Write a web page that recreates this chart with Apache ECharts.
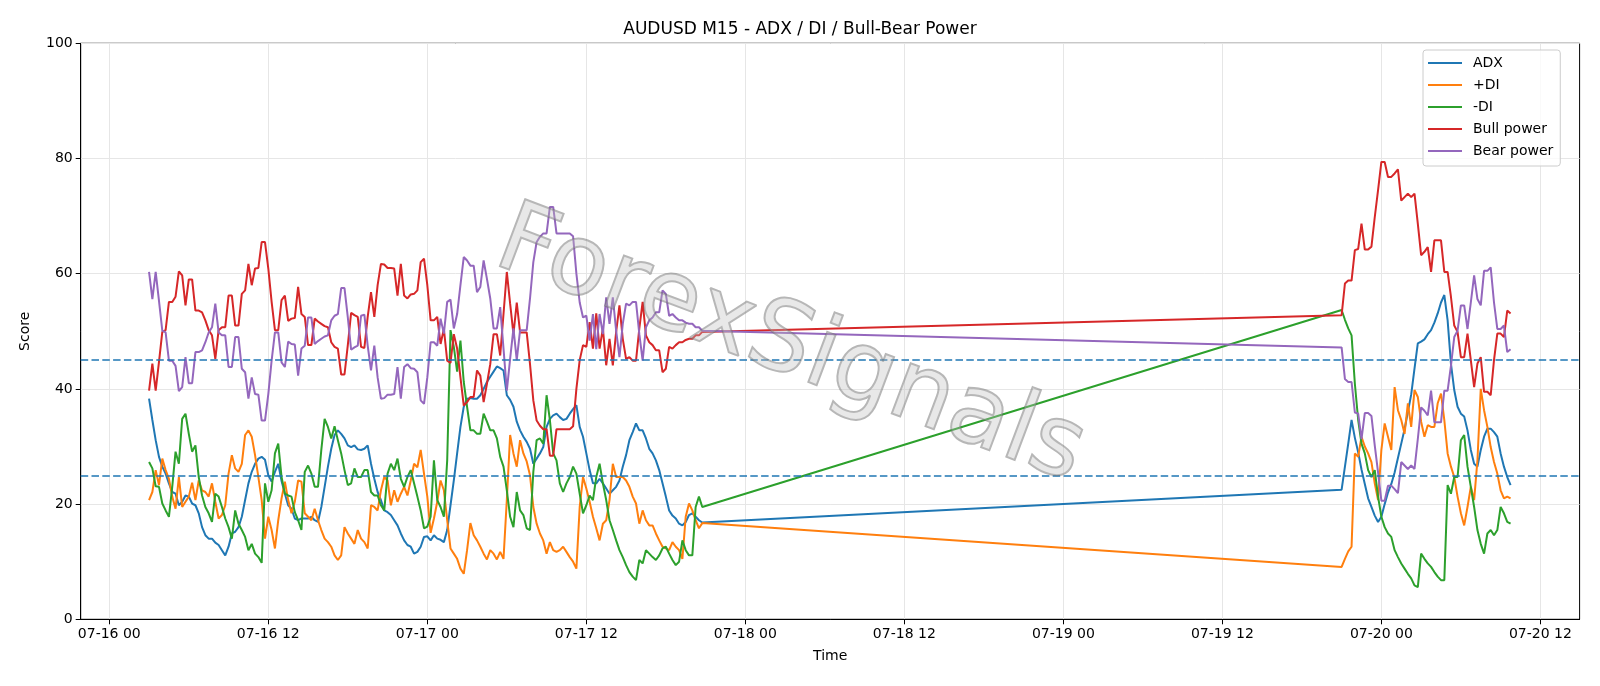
<!DOCTYPE html>
<html>
<head>
<meta charset="utf-8">
<title>AUDUSD M15 - ADX / DI / Bull-Bear Power</title>
<script src="https://cdn.jsdelivr.net/npm/echarts@6/dist/echarts.min.js"></script>
<style>
  html, body { margin: 0; padding: 0; background: #fff; }
  #main { width: 1600px; height: 686px; }
</style>
</head>
<body>
<div id="main"></div>
<script>
// x values are hours counted from 07-16 00:00, one bar every 15 minutes
var seg1Start = 3;    // 07-16 03:00
var seg2Start = 93;   // 07-19 21:00
var barStep = 0.25;

var tickHours = [0, 12, 24, 36, 48, 60, 72, 84, 96, 108];
var tickLabels = ['07-16 00', '07-16 12', '07-17 00', '07-17 12', '07-18 00',
                  '07-18 12', '07-19 00', '07-19 12', '07-20 00', '07-20 12'];

// ---- session 1 (07-16 03:00 .. 07-17 20:45) ----
var adx1 = [38.3,34.6,31.1,28.2,26.5,25.3,23.6,22.1,21.8,19.8,
  20.4,21.5,21.3,20.1,19.8,18.4,16.0,14.6,14.0,14.0,
  13.3,12.9,12.0,11.1,12.6,14.9,15.2,16.0,17.8,20.7,
  23.6,25.6,27.0,27.9,28.2,27.7,25.0,23.9,25.6,27.0,
  24.0,21.8,19.8,19.2,17.5,17.2,17.5,17.5,17.5,17.8,
  17.2,16.9,19.5,23.0,26.5,29.6,32.0,32.8,32.2,31.4,
  30.2,29.9,30.2,29.5,29.4,29.6,30.2,27.0,24.4,22.1,
  20.7,18.9,18.6,18.1,17.2,16.3,14.9,13.7,12.9,12.6,
  11.4,11.7,12.6,14.3,14.4,13.7,14.6,14.0,13.8,13.4,
  15.5,19.8,24.1,28.8,33.4,36.9,38.3,38.4,38.3,38.3,
  38.9,40.0,41.2,42.1,43.0,43.9,43.6,43.2,38.9,38.1,
  36.9,34.3,32.8,31.7,30.8,29.6,27.0,27.9,28.8,29.9,
  33.4,34.8,35.4,35.7,35.1,34.6,34.8,35.7,36.5,37.2,
  33.4,31.7,28.8,25.9,23.6,23.6,24.4,23.6,22.7,21.8,
  22.4,23.0,24.1,26.5,28.5,31.1,32.5,34.0,32.8,32.8,
  31.4,29.6,28.8,27.6,25.9,23.6,21.3,18.9,18.0,17.5,
  16.6,16.3,16.9,18.1,18.4,17.8,17.2,16.8];

var plusDi1 = [20.7,22.1,25.9,23.3,27.9,25.9,24.4,21.3,19.2,24.7,
  19.5,20.4,21.3,23.7,20.7,24.1,22.4,22.1,21.3,23.6,
  20.4,17.5,18.1,19.8,25.3,28.5,26.2,25.6,27.0,32.0,
  32.8,31.7,28.5,24.7,20.7,14.0,17.8,15.5,12.3,17.2,
  21.0,23.9,20.7,18.4,20.4,24.1,23.9,18.4,17.8,17.2,
  19.2,17.2,15.5,14.0,13.4,12.6,11.1,10.3,11.1,16.0,
  14.9,14.0,13.1,15.5,14.0,13.4,12.3,19.8,19.5,18.9,
  22.4,24.7,24.1,19.8,22.4,20.4,21.8,23.0,21.5,24.1,
  27.0,26.4,29.4,25.3,21.3,15.0,17.5,20.4,24.1,22.4,
  17.2,12.3,11.4,10.5,8.8,7.9,12.0,16.7,14.6,13.7,
  12.6,11.4,10.4,12.0,11.4,10.4,11.7,10.5,20.7,32.0,
  28.8,26.5,31.1,28.8,27.4,25.0,19.5,16.6,14.9,13.7,
  11.4,13.4,12.0,11.7,12.0,12.6,11.7,10.8,10.0,8.8,
  19.5,24.7,22.7,20.4,17.8,15.8,13.7,16.6,17.2,20.7,
  27.0,24.7,24.7,24.7,24.1,23.0,21.3,20.1,16.6,18.9,
  17.2,16.3,16.3,14.9,13.7,12.6,12.3,12.0,13.4,12.6,
  12.0,10.5,17.8,20.1,18.9,17.2,15.8,16.7];

var minusDi1 = [27.3,26.2,23.1,23.0,20.1,18.9,17.8,23.0,29.1,27.0,
  34.8,35.7,32.2,29.1,30.2,24.7,21.5,19.5,18.4,16.9,
  21.8,21.3,19.5,17.5,16.0,14.0,18.9,16.6,15.5,14.3,
  12.0,13.1,11.4,10.8,9.8,23.6,20.4,22.4,28.8,30.5,
  24.7,21.8,21.5,21.3,18.6,17.2,15.5,25.6,26.7,25.3,
  23.0,23.0,29.4,34.8,33.4,31.4,33.5,31.1,28.8,25.9,
  23.3,23.6,26.2,24.7,24.7,25.9,25.9,22.1,21.5,21.5,
  19.8,18.9,25.3,27.0,25.9,27.9,24.4,23.0,24.7,25.9,
  23.6,21.3,18.9,15.8,16.1,17.8,27.6,20.7,19.5,17.8,
  27.6,50.2,47.3,43.0,48.4,41.2,36.9,32.8,32.8,32.2,
  32.2,35.7,34.3,32.8,32.8,31.4,28.2,26.5,22.4,17.8,
  16.0,22.1,18.9,18.1,15.8,15.5,25.6,31.1,31.4,30.5,
  38.9,34.6,28.8,27.6,23.6,22.1,23.6,24.7,26.5,25.3,
  21.8,18.4,19.8,21.5,20.7,24.7,27.0,23.6,20.7,17.2,
  15.5,13.7,12.0,10.8,9.4,8.2,7.4,6.8,10.3,9.7,
  12.0,11.4,10.8,10.3,11.1,12.3,12.6,11.4,10.3,9.4,
  10.0,13.7,12.0,11.1,11.1,19.5,21.3,19.5];

var bull1 = [39.7,44.4,39.7,44.7,49.9,50.2,55.1,55.1,56.0,60.4,
  59.7,54.5,59.0,59.0,53.6,53.6,53.3,51.9,50.2,49.3,
  45.2,50.2,50.7,50.7,56.2,56.2,51.0,51.0,56.5,57.1,
  61.7,58.0,60.9,61.0,65.5,65.5,60.9,55.1,50.2,50.2,
  55.4,56.2,51.8,52.2,52.3,57.7,53.0,52.5,47.6,47.6,
  52.2,51.7,51.3,50.9,50.7,48.1,47.3,47.0,42.5,42.5,
  47.6,53.2,52.8,52.5,47.3,47.1,52.5,56.8,52.5,58.0,
  61.7,61.6,61.0,61.0,60.9,56.2,61.7,56.2,55.7,56.4,
  56.5,57.1,62.0,62.6,58.0,51.9,51.9,52.5,47.8,50.4,
  44.9,44.5,49.5,47.0,42.0,37.1,37.7,38.6,38.6,43.2,
  42.3,37.7,40.9,44.3,49.5,49.5,45.8,53.0,60.3,54.8,
  49.5,55.0,49.8,49.8,49.8,44.3,38.0,34.5,33.6,33.0,
  33.0,28.4,28.4,33.0,33.0,33.0,33.0,33.0,33.5,40.0,
  45.0,47.6,47.3,51.6,47.0,53.1,47.0,50.5,44.1,48.7,
  44.1,49.9,54.5,48.7,45.2,45.5,44.9,44.9,50.5,55.1,
  49.3,48.1,47.6,46.7,46.7,42.9,43.5,47.3,47.0,47.6,
  48.1,48.1,48.5,48.7,48.7,49.3,49.3,49.9];

var bear1 = [60.3,55.6,60.3,55.3,50.1,49.8,44.9,44.9,44.0,39.6,
  40.3,45.5,41.0,41.0,46.4,46.4,46.7,48.1,49.8,50.7,
  54.8,49.8,49.3,49.3,43.8,43.8,49.0,49.0,43.5,42.9,
  38.3,42.0,39.1,39.0,34.5,34.5,39.1,44.9,49.8,49.8,
  44.6,43.8,48.2,47.8,47.7,42.3,47.0,47.5,52.4,52.4,
  47.8,48.3,48.7,49.1,49.3,51.9,52.7,53.0,57.5,57.5,
  52.4,46.8,47.2,47.5,52.7,52.9,47.5,43.2,47.5,42.0,
  38.3,38.4,39.0,39.0,39.1,43.8,38.3,43.8,44.3,43.6,
  43.5,42.9,38.0,37.4,42.0,48.1,48.1,47.5,52.2,49.6,
  55.1,55.5,50.5,53.0,58.0,62.9,62.3,61.4,61.4,56.8,
  57.7,62.3,59.1,55.7,50.5,50.5,54.2,47.0,39.7,45.2,
  50.5,45.0,50.2,50.2,50.2,55.7,62.0,65.5,66.4,67.0,
  67.0,71.6,71.6,67.0,67.0,67.0,67.0,67.0,66.5,60.0,
  55.0,52.4,52.7,48.4,53.0,46.9,53.0,49.5,55.9,51.3,
  55.9,50.1,45.5,51.3,54.8,54.5,55.1,55.1,49.5,44.9,
  50.7,51.9,52.4,53.3,53.3,57.1,56.5,52.7,53.0,52.4,
  51.9,51.9,51.5,51.3,51.3,50.7,50.7,50.1];

// ---- session 2 (07-19 21:00 .. 07-20 09:45) ----
var adx2 = [22.5,26.5,30.5,34.6,31.5,29.0,26.0,23.5,21.0,19.5,
  18.0,16.9,17.8,20.0,22.0,23.5,25.5,28.0,30.5,33.0,
  36.0,39.0,43.5,47.9,48.2,48.6,49.5,50.2,51.5,53.1,
  55.0,56.3,51.9,44.4,39.8,36.9,35.7,35.2,32.8,29.4,
  27.0,26.5,29.4,31.7,33.1,33.1,32.5,31.7,28.8,26.5,
  24.7,23.3];

var plusDi2 = [9.1,10.5,11.8,12.6,28.8,28.2,31.7,30.0,28.8,27.3,
  23.6,20.7,29.4,34.0,31.7,29.4,40.3,36.3,34.6,32.2,
  37.5,33.4,39.8,38.6,34.3,31.7,33.7,33.4,33.4,37.5,
  39.2,34.6,28.8,26.5,24.7,21.3,18.4,16.3,19.5,23.0,
  20.7,27.6,40.0,36.3,33.4,29.9,27.3,25.3,22.4,21.0,
  21.3,21.0];

var minusDi2 = [53.7,52.0,50.5,49.3,40.9,34.6,30.5,28.8,25.9,24.7,
  25.9,21.3,17.8,16.0,14.9,14.3,12.0,10.8,9.7,8.8,
  7.9,7.1,5.9,5.6,11.4,10.5,9.7,9.1,8.2,7.4,
  6.8,6.8,23.3,21.8,24.7,24.7,31.1,32.0,26.5,23.0,
  19.5,15.5,13.1,11.4,14.9,15.5,14.6,15.5,19.5,18.4,
  16.9,16.6];

var bull2 = [52.8,58.3,58.8,58.8,64.1,64.3,68.7,64.2,64.2,64.7,
  69.8,74.5,79.4,79.4,76.8,76.8,77.4,78.1,72.7,73.3,
  73.9,73.3,73.9,68.7,63.2,63.8,64.6,60.3,65.8,65.8,
  65.8,60.3,60.3,56.0,51.0,49.9,45.5,45.5,49.6,45.0,
  40.3,44.4,45.5,39.5,39.5,38.9,45.0,49.6,49.6,49.0,
  53.6,53.1];

var bear2 = [47.2,41.7,41.2,41.2,35.9,35.7,31.3,35.8,35.8,35.3,
  30.2,25.5,20.6,20.6,23.2,23.2,22.6,21.9,27.3,26.7,
  26.1,26.7,26.1,31.3,36.8,36.2,35.4,39.7,34.2,34.2,
  34.2,39.7,39.7,44.0,49.0,50.1,54.5,54.5,50.4,55.0,
  59.7,55.6,54.5,60.5,60.5,61.1,55.0,50.4,50.4,51.0,
  46.4,46.9];

var thresholds = [45, 25];

function joinSessions(a, b) {
  var pts = [];
  a.forEach(function (v, i) { pts.push([seg1Start + i * barStep, v]); });
  b.forEach(function (v, i) { pts.push([seg2Start + i * barStep, v]); });
  return pts;
}

function mkSeries(name, color, a, b) {
  return {
    name: name,
    type: 'line',
    symbol: 'none',
    data: joinSessions(a, b),
    lineStyle: { color: color, width: 2 },
    itemStyle: { color: color },
    emphasis: { disabled: true },
    animation: false
  };
}

var series = [
  mkSeries('ADX', '#1f77b4', adx1, adx2),
  mkSeries('+DI', '#ff7f0e', plusDi1, plusDi2),
  mkSeries('-DI', '#2ca02c', minusDi1, minusDi2),
  mkSeries('Bull power', '#d62728', bull1, bull2),
  mkSeries('Bear power', '#9467bd', bear1, bear2)
];
series[0].markLine = {
  silent: true,
  symbol: 'none',
  label: { show: false },
  lineStyle: { color: '#1f77b4', type: [7.5, 3.3], width: 1.5 },
  data: thresholds.map(function (t) { return { yAxis: t }; })
};

var myChart = echarts.init(document.getElementById('main'));
var font = 'DejaVu Sans';

var option = {
  animation: false,
  textStyle: { fontFamily: font },
  title: {
    text: 'AUDUSD M15 - ADX / DI / Bull-Bear Power',
    left: 'center',
    top: 16,
    textStyle: { fontFamily: font, fontSize: 17, fontWeight: 'normal', color: '#000' }
  },
  grid: {
    left: 80.7, right: 20.4, top: 43.3, bottom: 66.7,
    show: true, borderColor: '#000', borderWidth: 1, backgroundColor: 'transparent'
  },
  legend: {
    orient: 'vertical',
    left: 1423, top: 50,
    padding: [5, 7, 7, 5],
    itemGap: 6,
    itemWidth: 34, itemHeight: 2,
    icon: 'rect',
    backgroundColor: 'rgba(255,255,255,0.8)',
    borderColor: '#cccccc', borderWidth: 1, borderRadius: 3,
    textStyle: { fontFamily: font, fontSize: 14, color: '#000', lineHeight: 16, padding: [0, 0, 0, 6] },
    data: ['ADX', '+DI', '-DI', 'Bull power', 'Bear power']
  },
  xAxis: {
    type: 'value',
    min: -2.158, max: 110.96,
    name: 'Time', nameLocation: 'middle', nameGap: 30,
    nameTextStyle: { fontFamily: font, fontSize: 14, color: '#000' },
    axisLine: { show: true, onZero: false, lineStyle: { color: '#000', width: 1 } },
    axisTick: { show: true, inside: false, length: 5, customValues: tickHours, lineStyle: { color: '#000' } },
    axisLabel: {
      customValues: tickHours, margin: 8, fontFamily: font, fontSize: 14, color: '#000',
      formatter: function (v) { return tickLabels[tickHours.indexOf(v)] || ''; }
    },
    splitLine: { show: true, lineStyle: { color: '#e6e6e6', width: 1 } }
  },
  yAxis: {
    type: 'value',
    min: 0, max: 100, interval: 20,
    name: 'Score', nameLocation: 'middle', nameGap: 48,
    nameTextStyle: { fontFamily: font, fontSize: 14, color: '#000' },
    axisLine: { show: true, onZero: false, lineStyle: { color: '#000', width: 1 } },
    axisTick: { show: true, inside: false, length: 5, lineStyle: { color: '#000' } },
    axisLabel: { margin: 8, fontFamily: font, fontSize: 14, color: '#000' },
    splitLine: { show: true, lineStyle: { color: '#e6e6e6', width: 1 } }
  },
  graphic: [{
    type: 'text',
    x: 790, y: 348,
    rotation: -0.36,
    z: 100,
    silent: true,
    style: {
      text: 'ForexSignals',
      font: '98px "DejaVu Sans"',
      fill: 'rgba(190,190,190,0.35)',
      stroke: 'rgba(110,110,110,0.5)',
      lineWidth: 2,
      align: 'center',
      verticalAlign: 'middle'
    }
  }],
  series: series
};

myChart.setOption(option);
</script>
</body>
</html>
